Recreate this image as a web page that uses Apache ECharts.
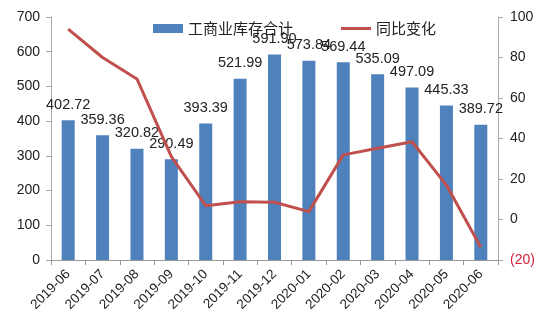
<!DOCTYPE html>
<html><head><meta charset="utf-8">
<script src="https://cdn.jsdelivr.net/npm/echarts@6/dist/echarts.min.js"></script>
<style>html,body{margin:0;padding:0;background:#fff}#c{width:550px;height:330px}</style>
</head><body><div id="c"></div>
<script>
var categories = ['2019-06','2019-07','2019-08','2019-09','2019-10','2019-11','2019-12','2020-01','2020-02','2020-03','2020-04','2020-05','2020-06'];
var inventory = [402.72,359.36,320.82,290.49,393.39,521.99,591.90,573.84,569.44,535.09,497.09,445.33,389.72];
var yoy = [94,80,69.4,31,6.8,8.8,8.5,3.9,31.9,35.2,38.4,17,-13.7];
var barName = '工商业库存合计';
var lineName = '同比变化';
var font = 'Liberation Sans, DejaVu Sans, sans-serif';
var chart = echarts.init(document.getElementById('c'));
chart.setOption({
  animation:false,
  textStyle:{fontFamily:font},
  legend:{top:16,left:148,itemGap:48,itemWidth:30,itemHeight:9,
    textStyle:{fontSize:15,color:'#222',fontFamily:'Noto Sans CJK SC'},
    data:[{name:barName,icon:'rect'},{name:lineName,icon:'path://M0,0H30V3H0Z'}]},
  grid:{left:51,right:52,top:17,bottom:70},
  xAxis:{type:'category',data:categories,
    axisLine:{lineStyle:{color:'#999'}},
    axisTick:{show:true,alignWithLabel:false,length:5,lineStyle:{color:'#999'}},
    axisLabel:{rotate:45,fontSize:13.5,color:'#222',margin:12,interval:0}},
  yAxis:[
    {type:'value',min:0,max:700,interval:100,
     axisLine:{show:true,lineStyle:{color:'#aaa'}},
     axisTick:{show:true,inside:false,length:5,lineStyle:{color:'#aaa'}},
     splitLine:{show:false},
     axisLabel:{fontSize:14,color:'#222',margin:11}},
    {type:'value',min:-20,max:100,interval:20,position:'right',
     axisLine:{show:true,lineStyle:{color:'#aaa'}},
     axisTick:{show:true,length:5,lineStyle:{color:'#aaa'}},
     splitLine:{show:false},
     axisLabel:{fontSize:14,margin:12,
       formatter:function(v){return v<0?'{r|('+(-v)+')}':'{k|'+v+'}';},
       rich:{r:{color:'#d0203a',fontSize:14},k:{color:'#222',fontSize:14}}}}
  ],
  series:[
    {name:barName,type:'bar',data:inventory,barWidth:13,
     itemStyle:{color:'#4F81BD'},
     label:{show:true,position:'top',distance:8,fontSize:14.5,color:'#222',
       formatter:function(p){return p.value.toFixed(2);}}},
    {name:lineName,type:'line',yAxisIndex:1,data:yoy,symbol:'none',
     lineStyle:{color:'#C0504D',width:3},itemStyle:{color:'#C0504D'}}
  ]
});
</script></body></html>
